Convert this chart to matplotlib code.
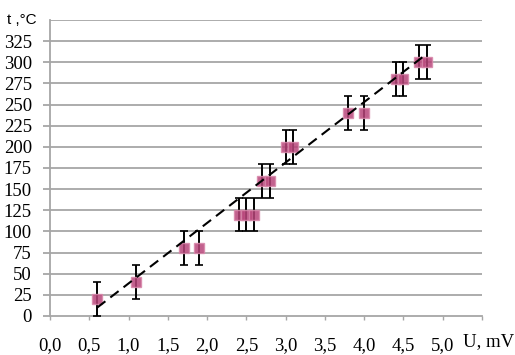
import numpy as np
import matplotlib
matplotlib.use("Agg")
import matplotlib.pyplot as plt

# Данные: напряжение термопары (мВ) и температура (°C)
u_mv = [0.6, 1.1, 1.7, 1.9, 2.4, 2.5, 2.6, 2.7, 2.8, 3.0, 3.1, 3.8, 4.0, 4.4, 4.5, 4.7, 4.8]
t_c = [20, 40, 80, 80, 120, 120, 120, 160, 160, 200, 200, 240, 240, 280, 280, 300, 300]
t_err = [20] * len(t_c)

y_ticks = [0, 25, 50, 75, 100, 125, 150, 175, 200, 225, 250, 275, 300, 325]
x_ticks = [0.0, 0.5, 1.0, 1.5, 2.0, 2.5, 3.0, 3.5, 4.0, 4.5, 5.0]
x_labels = ["0,0", "0,5", "1,0", "1,5", "2,0", "2,5", "3,0", "3,5", "4,0", "4,5", "5,0"]

# линия тренда (оценка по рисунку)
trend_k = 71.5
trend_b = -33
trend_x = np.array([0.6, 4.75])

fig = plt.figure(figsize=(5.15, 3.55), dpi=100)
ax = fig.add_axes([50 / 515, 1 - 316 / 355, 432 / 515, 296 / 355])

grid_col = "#a6a6a6"
for yv in range(25, 351, 25):
    ax.axhline(yv, color=grid_col, lw=1.3, zorder=1)

ax.errorbar(u_mv, t_c, yerr=t_err, fmt="none", ecolor="black", elinewidth=1.4,
            capsize=3, capthick=1.2, zorder=3)
ax.plot(u_mv, t_c, "s", ms=7.5, color="#b8457a", mec="#d888aa", mew=1, alpha=0.85, zorder=4)
ax.plot(trend_x, trend_k * trend_x + trend_b, color="black", lw=1.5, ls=(0, (5, 3)), zorder=5)

ax.set_xlim(0, 5.5)
ax.set_ylim(0, 350)
ax.set_xticks(x_ticks + [5.5])
ax.set_xticklabels(x_labels + [""])
ax.set_yticks(y_ticks)

for s in ["top", "right"]:
    ax.spines[s].set_visible(False)
ax.spines["left"].set_color(grid_col)
ax.spines["bottom"].set_color(grid_col)
ax.spines["left"].set_linewidth(1.3)
ax.spines["bottom"].set_linewidth(1.3)

ax.tick_params(axis="y", length=5, color=grid_col, width=1.3, pad=8,
               labelsize=13.5)
ax.tick_params(axis="x", length=3, color=grid_col, width=1, pad=12,
               labelsize=13.5)
for lab in ax.get_xticklabels() + ax.get_yticklabels():
    lab.set_family("Liberation Serif")

ax.text(-0.03, 350, "t ,°C", transform=ax.get_yaxis_transform(), ha="right",
        va="center", fontsize=11, family="Liberation Sans")
ax.text(463 / 515, 1 - 342 / 355, "U, mV", transform=fig.transFigure, ha="left",
        va="center", fontsize=13.5, family="Liberation Serif")

fig.savefig("out.png", dpi=100)
